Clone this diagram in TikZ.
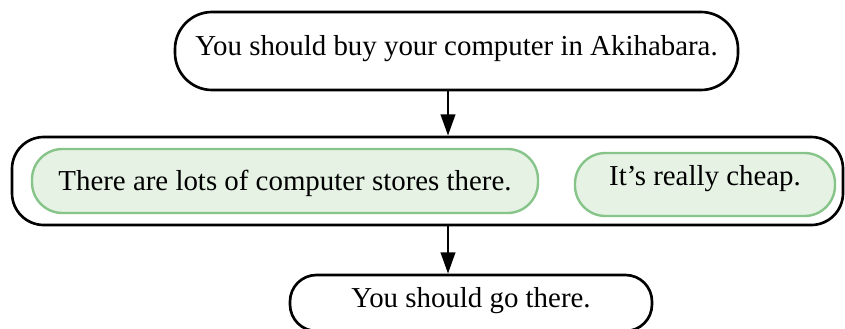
\documentclass[tikz,border=0pt]{standalone}
\usepackage{fontspec}
\setmainfont{Liberation Serif}
\usetikzlibrary{arrows.meta}
\definecolor{gfill}{RGB}{230,242,228}
\definecolor{gline}{RGB}{134,196,137}
\newcommand{\shiftup}[2]{\raisebox{#1}[\height][\depth]{#2}}
\tikzset{
  claim/.style={draw=black, line width=1pt, rounded corners=14pt, align=center, inner sep=0pt, font=\fontsize{10.9}{13}\selectfont},
  group/.style={draw=black, line width=1pt, rounded corners=12pt, inner sep=0pt},
  reason/.style={draw=gline, fill=gfill, line width=0.9pt, rounded corners=11.5pt, align=center, inner sep=0pt, font=\fontsize{10.9}{13}\selectfont},
  link/.style={line width=1pt, -{Triangle[length=8pt,width=5.4pt]}},
}
\begin{document}
\begin{tikzpicture}[x=0.3774pt,y=-0.3774pt]
\useasboundingbox (0,0) rectangle (845,329);
\node[claim, minimum width=563*0.3774pt, minimum height=78*0.3774pt] (top) at (456.5,51) {\shiftup{1pt}{You should buy your computer in Akihabara.}};
\node[group, minimum width=831*0.3774pt, minimum height=88*0.3774pt] (grp) at (427.5,181) {};
\node[reason, minimum width=506*0.3774pt, minimum height=64*0.3774pt] (r1) at (285,181) {\shiftup{-0.9pt}{There are lots of computer stores there.}};
\node[reason, minimum width=260*0.3774pt, minimum height=63*0.3774pt] (r2) at (705,184.5) {\shiftup{2.3pt}{It’s really cheap.}};
\node[claim, rounded corners=10pt, minimum width=362*0.3774pt, minimum height=56*0.3774pt] (bot) at (471,303) {\shiftup{1pt}{You should go there.}};
\draw[link] (top.south -| 448,0) -- (grp.north -| 448,0);
\draw[link] (grp.south -| 448,0) -- (bot.north -| 448,0);
\end{tikzpicture}
\end{document}
